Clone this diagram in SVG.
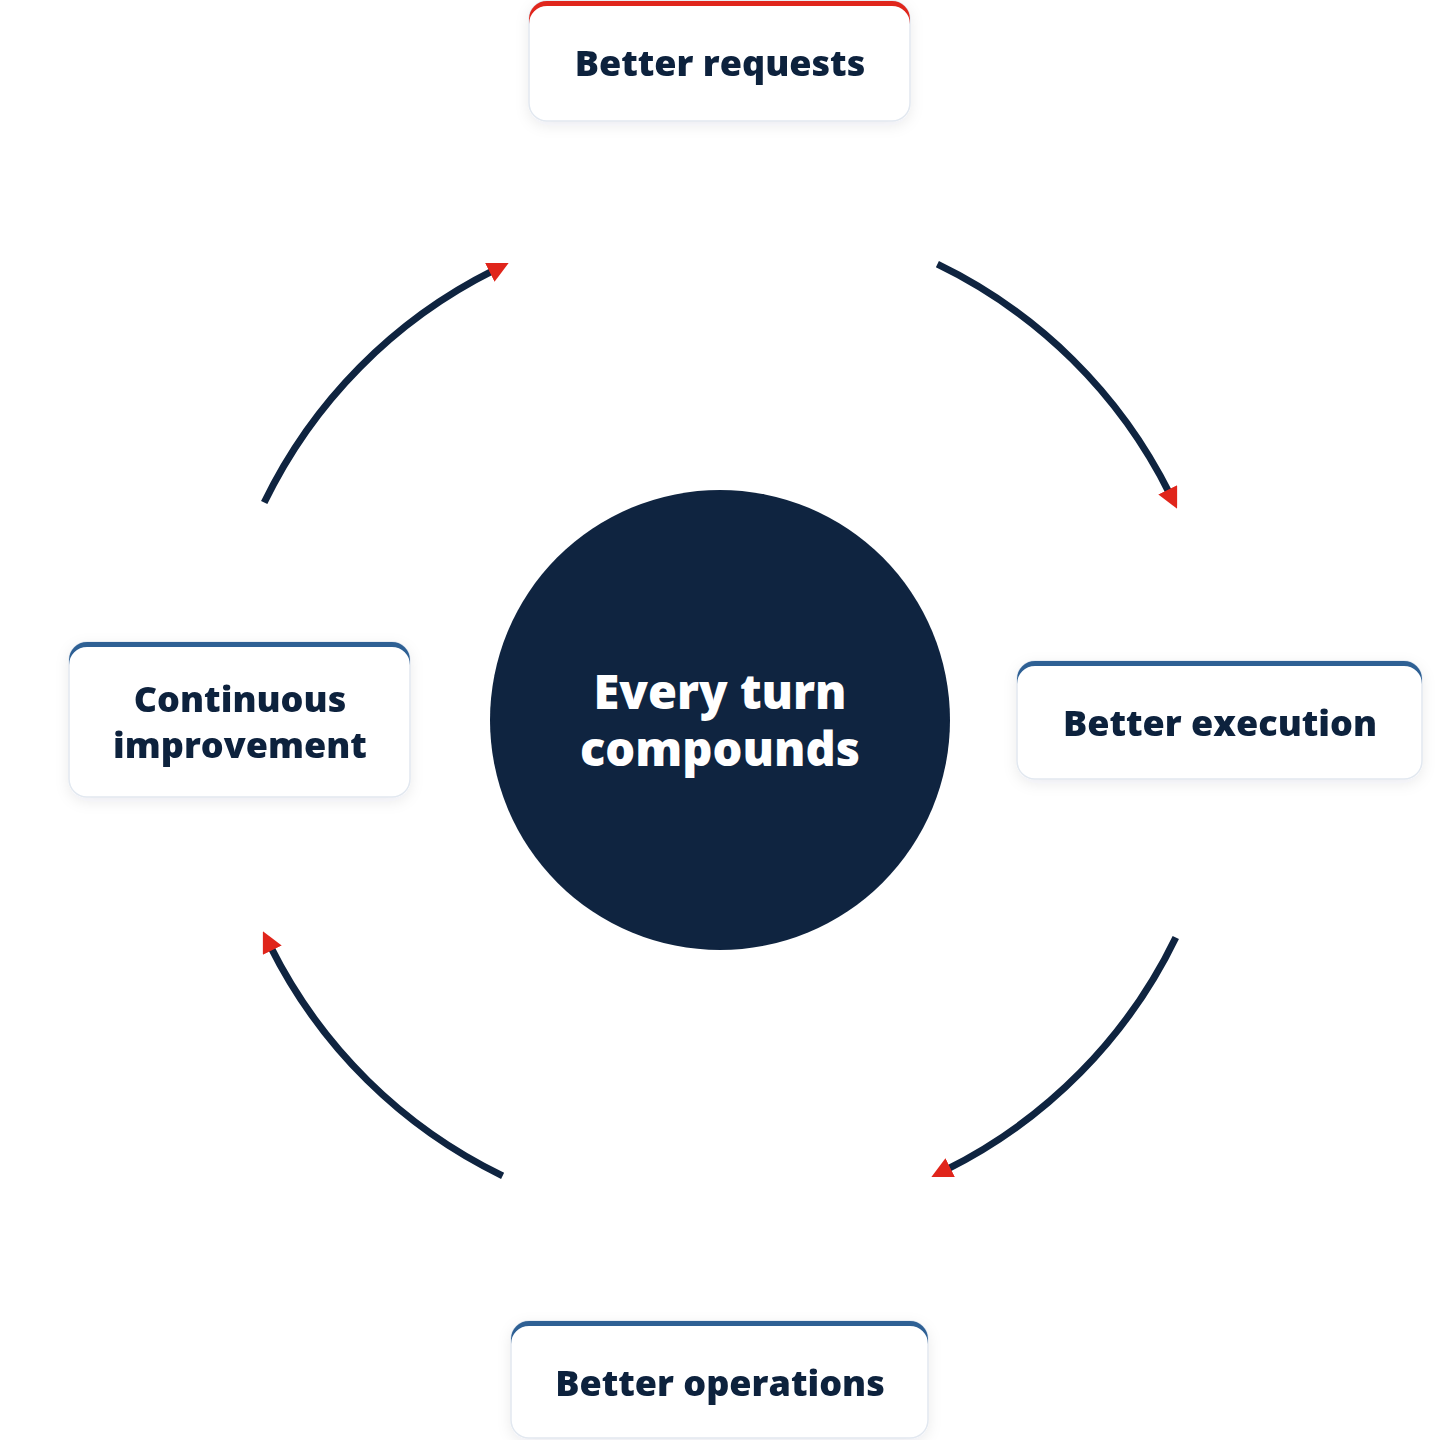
<svg xmlns="http://www.w3.org/2000/svg" width="1440" height="1440" viewBox="0 0 1440 1440">
<style>
.lbl{font-family:"Open Sans","Noto Sans","Liberation Sans",sans-serif;font-weight:800;font-size:36px;fill:#0d213d;text-anchor:middle}
.ctr{font-family:"Open Sans","Noto Sans","Liberation Sans",sans-serif;font-weight:800;font-size:47px;fill:#ffffff;text-anchor:middle}
.arc{fill:none;stroke:#0f2440;stroke-width:7}
.card{fill:#ffffff;stroke:#e2e8f0;stroke-width:1.5}
</style>
<defs>
<filter id="sh" x="-20%" y="-30%" width="140%" height="160%">
<feDropShadow dx="0" dy="4" stdDeviation="7" flood-color="#0f2440" flood-opacity="0.08"/>
</filter>
<marker id="ah" viewBox="0 0 10 10" markerUnits="userSpaceOnUse" markerWidth="21" markerHeight="21" refX="2" refY="5" orient="auto">
<path d="M0,0 L10,5 L0,10 z" fill="#e0251b"/>
</marker>
</defs>
<rect width="1440" height="1440" fill="#ffffff"/>
<g id="connectors">
<path class="arc" d="M937.4,264.2 A505,505 0 0 1 1169.6,493.6" marker-end="url(#ah)"/>
<path class="arc" d="M1175.8,937.4 A505,505 0 0 1 946.4,1169.6" marker-end="url(#ah)"/>
<path class="arc" d="M502.6,1175.8 A505,505 0 0 1 270.4,946.4" marker-end="url(#ah)"/>
<path class="arc" d="M264.2,502.6 A505,505 0 0 1 493.6,270.4" marker-end="url(#ah)"/>
</g>
<g id="center">
<circle cx="720" cy="720" r="230" fill="#0f2440"/>
<text class="ctr" x="720" y="709">Every turn</text>
<text class="ctr" x="720" y="766">compounds</text>
</g>
<g id="node-requests" filter="url(#sh)">
<rect class="card" x="529" y="1" width="381" height="120" rx="18"/>
<path d="M529,19 A18,18 0 0 1 547,1 L892,1 A18,18 0 0 1 910,19 L910,24 A18,18 0 0 0 892,6 L547,6 A18,18 0 0 0 529,24 z" fill="#e0251b"/>
<text class="lbl" x="720" y="76">Better requests</text>
</g>
<g id="node-execution" filter="url(#sh)">
<rect class="card" x="1017" y="661" width="405" height="118" rx="18"/>
<path d="M1017,679 A18,18 0 0 1 1035,661 L1404,661 A18,18 0 0 1 1422,679 L1422,684 A18,18 0 0 0 1404,666 L1035,666 A18,18 0 0 0 1017,684 z" fill="#2e6094"/>
<text class="lbl" x="1220" y="736">Better execution</text>
</g>
<g id="node-operations" filter="url(#sh)">
<rect class="card" x="511" y="1321" width="417" height="117" rx="18"/>
<path d="M511,1339 A18,18 0 0 1 529,1321 L910,1321 A18,18 0 0 1 928,1339 L928,1344 A18,18 0 0 0 910,1326 L529,1326 A18,18 0 0 0 511,1344 z" fill="#2e6094"/>
<text class="lbl" x="720" y="1396">Better operations</text>
</g>
<g id="node-improvement" filter="url(#sh)">
<rect class="card" x="69" y="642" width="341" height="155" rx="18"/>
<path d="M69,660 A18,18 0 0 1 87,642 L392,642 A18,18 0 0 1 410,660 L410,665 A18,18 0 0 0 392,647 L87,647 A18,18 0 0 0 69,665 z" fill="#2e6094"/>
<text class="lbl" x="240" y="712">Continuous</text>
<text class="lbl" x="240" y="758">improvement</text>
</g>
</svg>
